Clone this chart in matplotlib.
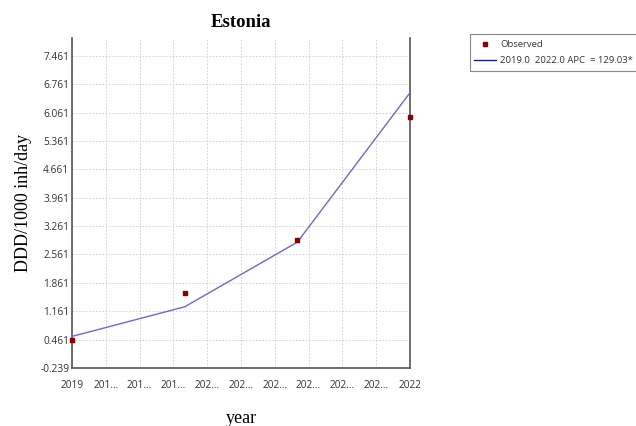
import matplotlib
matplotlib.use("Agg")
import matplotlib.pyplot as plt
from matplotlib.patches import Rectangle
from matplotlib.lines import Line2D

# Estonia: observed consumption and joinpoint fit
years = [2019, 2020, 2021, 2022]
observed = [0.45, 1.60, 2.93, 5.95]
fitted = [0.54, 1.27, 2.865, 6.55]

x_ticks = [2019.0, 2019.3, 2019.6, 2019.9, 2020.2, 2020.5,
           2020.8, 2021.1, 2021.4, 2021.7, 2022.0]
x_labels = ["2019", "201...", "201...", "201...", "202...", "202...",
            "202...", "202...", "202...", "202...", "2022"]
y_ticks = [-0.239, 0.461, 1.161, 1.861, 2.561, 3.261, 3.961,
           4.661, 5.361, 6.061, 6.761, 7.461]
y_labels = [f"{v:.3f}" for v in y_ticks]

title = "Estonia"
x_title = "year"
y_title = "DDD/1000 inh/day"
legend_obs = "Observed"
legend_fit = "2019.0  2022.0 APC  = 129.03*"

fig = plt.figure(figsize=(6.36, 4.26), dpi=100)
W, H = 636, 426
ax = fig.add_axes([72 / W, 1 - 368 / H, (410 - 72) / W, (368 - 38) / H])

ax.plot(years, fitted, color="#6a6ad0", lw=1.0, zorder=3)
ax.scatter(years, observed, marker="s", s=9, color="#8b0000", zorder=4,
           clip_on=False)

ax.set_xlim(2019, 2022)
ax.set_ylim(-0.239, 7.9)
ax.set_xticks(x_ticks)
ax.set_xticklabels(x_labels)
ax.set_yticks(y_ticks)
ax.set_yticklabels(y_labels)

for lbl in ax.get_xticklabels() + ax.get_yticklabels():
    lbl.set_fontfamily("Open Sans")
    lbl.set_fontsize(7.3)
    lbl.set_color("#333333")
ax.tick_params(axis="both", length=0)
ax.tick_params(axis="x", pad=9)
ax.tick_params(axis="y", pad=2)

ax.grid(True, color="#cccccc", lw=0.6, ls=(0, (2, 2)))
ax.set_axisbelow(True)

for side in ["left", "bottom", "right"]:
    ax.spines[side].set_color("#555555")
    ax.spines[side].set_linewidth(1.2)
ax.spines["top"].set_visible(False)

ax.set_title(title, family="Liberation Serif", weight="bold", fontsize=13.5,
             pad=8)
ax.set_xlabel(x_title, family="Liberation Serif", fontsize=13, labelpad=13)
ax.set_ylabel(y_title, family="Liberation Serif", fontsize=13, labelpad=6)

# legend in its own frame, running off the right edge
fig.patches.append(Rectangle((470 / W, 1 - 71 / H), 180 / W, 37 / H,
                             transform=fig.transFigure, fill=False,
                             edgecolor="#888888", lw=0.8))
handles = [
    Line2D([], [], ls="none", marker="s", ms=3, color="#8b0000"),
    Line2D([], [], color="#1a1a8c", lw=1.0),
]
fig.legend(handles, [legend_obs, legend_fit], loc="upper left",
           bbox_to_anchor=(472 / W, 1 - 38 / H), frameon=False,
           prop=dict(family="Open Sans", size=6.8), handlelength=2.3,
           handletextpad=0.5, labelspacing=0.75, borderaxespad=0,
           borderpad=0.2, labelcolor="#333333")

fig.savefig("out.png", dpi=100)
